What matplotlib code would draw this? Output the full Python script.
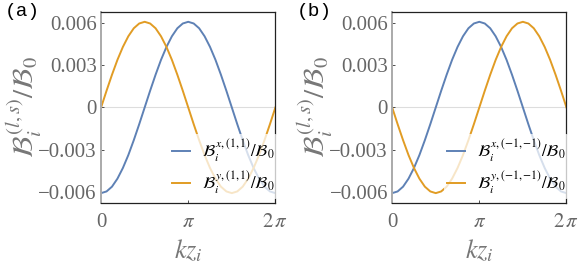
import numpy as np
from matplotlib import pyplot as plt

plt.rcParams['font.family'] = ['Liberation Serif', 'DejaVu Serif']
plt.rcParams['mathtext.fontset'] = 'stix'

# kz_i sampled every pi/16 over one period
kz = np.arange(33) * np.pi / 16

# values, in units of 1e-3
bx_a = [-6.10, -5.98, -5.64, -5.07, -4.31, -3.39, -2.33, -1.19, 0.00,
        1.19, 2.33, 3.39, 4.31, 5.07, 5.64, 5.98, 6.10, 5.98, 5.64, 5.07,
        4.31, 3.39, 2.33, 1.19, 0.00, -1.19, -2.33, -3.39, -4.31, -5.07,
        -5.64, -5.98, -6.10]
by_a = [0.00, 1.19, 2.33, 3.39, 4.31, 5.07, 5.64, 5.98, 6.10, 5.98, 5.64,
        5.07, 4.31, 3.39, 2.33, 1.19, 0.00, -1.19, -2.33, -3.39, -4.31,
        -5.07, -5.64, -5.98, -6.10, -5.98, -5.64, -5.07, -4.31, -3.39,
        -2.33, -1.19, 0.00]
bx_b = bx_a
by_b = [0.00, -1.19, -2.33, -3.39, -4.31, -5.07, -5.64, -5.98, -6.10, -5.98,
        -5.64, -5.07, -4.31, -3.39, -2.33, -1.19, 0.00, 1.19, 2.33, 3.39,
        4.31, 5.07, 5.64, 5.98, 6.10, 5.98, 5.64, 5.07, 4.31, 3.39, 2.33,
        1.19, 0.00]

yticks = [-0.006, -0.003, 0, 0.003, 0.006]
ytick_labels = ['\u22120.006', '\u22120.003', '0', '0.003', '0.006']
xticks = [0, np.pi, 2 * np.pi]
xtick_labels = ['0', r'$\pi$', r'$2\,\pi$']

blue = '#5E81B5'
orange = '#E19C24'
gray = '#666666'

panels = [
    ('(a)', bx_a, by_a, '(1,1)', 0.174),
    ('(b)', bx_b, by_b, '({-}1,{-}1)', 0.675),
]

fig = plt.figure(figsize=(5.81, 2.66), dpi=100)

for tag, bx, by, ls, left in panels:
    ax = fig.add_axes([left, 0.237, 0.30, 0.718])
    ax.axhline(0, color='#dddddd', lw=0.8, zorder=0)
    ax.plot(kz, np.array(bx) * 1e-3, color=blue, lw=1.4,
            label=r'$\mathcal{B}_i^{\,x,' + ls + r'}/\mathcal{B}_0$')
    ax.plot(kz, np.array(by) * 1e-3, color=orange, lw=1.4,
            label=r'$\mathcal{B}_i^{\,y,' + ls + r'}/\mathcal{B}_0$')
    ax.set_xlim(0, 2 * np.pi)
    ax.set_ylim(-0.0068, 0.0068)
    ax.set_xticks(xticks)
    ax.set_xticklabels(xtick_labels)
    ax.set_yticks(yticks)
    ax.set_yticklabels(ytick_labels)
    ax.tick_params(direction='in', length=2, width=0.6, colors='#333333',
                   labelcolor=gray, labelsize=15, pad=3)
    ax.tick_params(axis='x', pad=7)
    for s in ax.spines.values():
        s.set_color('#222222')
        s.set_linewidth(0.9)
    ax.spines['left'].set_color('#aaaaaa')
    ax.spines['left'].set_linewidth(1.4)
    ax.set_xlabel(r'$kz_i$', fontsize=19, color='#777777', labelpad=4)
    ax.set_ylabel(r'$\mathcal{B}_i^{\,(l,s)}/\mathcal{B}_0$', fontsize=21,
                  color='#777777', labelpad=-4)
    leg = ax.legend(loc='lower right', bbox_to_anchor=(1.015, 0.02),
                    fontsize=12, frameon=True,
                    handlelength=1.1, handletextpad=0.7, borderpad=0.2,
                    labelspacing=0.3, borderaxespad=0.0)
    leg.get_frame().set_facecolor('white')
    leg.get_frame().set_alpha(0.75)
    leg.get_frame().set_linewidth(0)
    fig.text(left - 0.165, 0.955, tag, family='Liberation Mono', fontsize=14,
             va='center', ha='left')

plt.savefig('out.png', dpi=100)
